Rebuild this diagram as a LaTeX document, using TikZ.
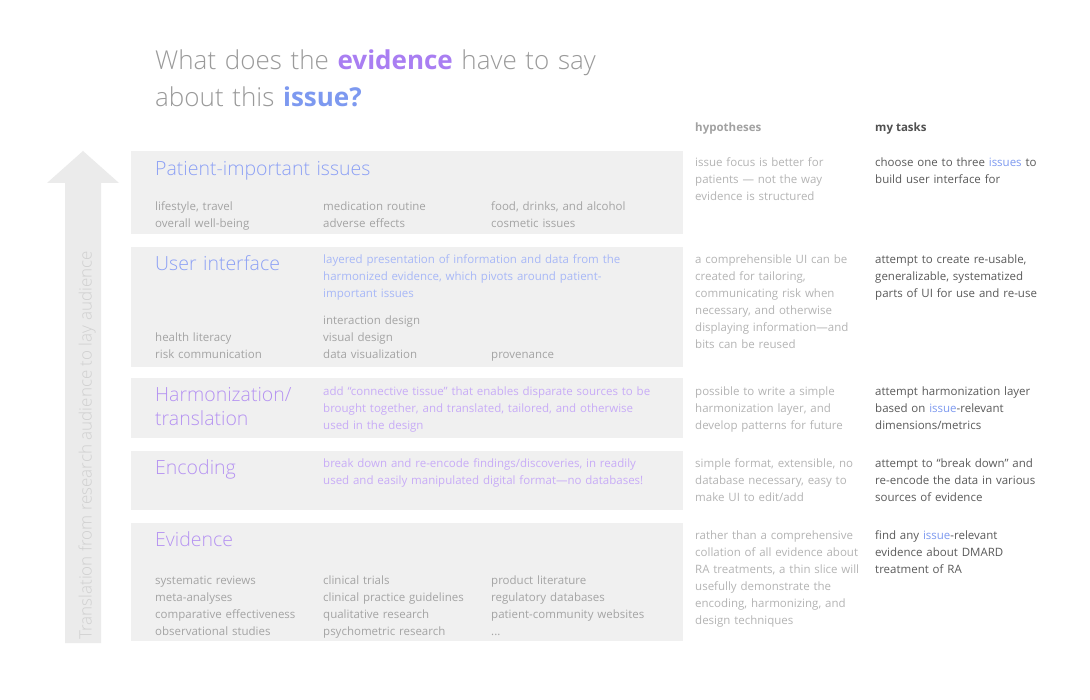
\documentclass[tikz,border=0pt]{standalone}
\usepackage{fontspec}
\setmainfont{Open Sans}
\newfontfamily\lightfont{Open Sans Light}
\usepackage{tikz}
\usetikzlibrary{positioning}
\definecolor{bandgray}{HTML}{F0F0F0}
\definecolor{arrowgray}{HTML}{EBEBEB}
\definecolor{arrowtext}{HTML}{D0D0D0}
\definecolor{titlegray}{HTML}{9A9A9A}
\definecolor{evpurple}{HTML}{A97EF2}
\definecolor{issueblue}{HTML}{7D99F0}
\definecolor{hdgblue}{HTML}{8CA0F5}
\definecolor{hdgpurple}{HTML}{B592F2}
\definecolor{descblue}{HTML}{A8B8F7}
\definecolor{descpurple}{HTML}{C8ACF7}
\definecolor{itemgray}{HTML}{A4A4A4}
\definecolor{hypgray}{HTML}{B4B4B4}
\definecolor{taskgray}{HTML}{5A5A5A}

\begin{document}
\begin{tikzpicture}[
  x=1pt,y=-1pt,
  every node/.style={inner sep=0pt,anchor=base west,align=left},
  band/.style={fill=bandgray},
  ttl/.style={font=\lightfont\fontsize{26}{37}\selectfont,text=titlegray,text width=500},
  hdg/.style={font=\lightfont\fontsize{19.5}{24}\selectfont,text width=300},
  hblue/.style={hdg,text=hdgblue},
  hpurp/.style={hdg,text=hdgpurple},
  desc/.style={font=\fontsize{11.5}{17}\selectfont,text width=355},
  dblue/.style={desc,text=descblue},
  dpurp/.style={desc,text=descpurple},
  item/.style={font=\fontsize{11.5}{17}\selectfont,text=itemgray,text width=200},
  hyp/.style={font=\fontsize{11.5}{17}\selectfont,text=hypgray,text width=200},
  task/.style={font=\fontsize{11.5}{17}\selectfont,text=taskgray,text width=200},
  colhdr/.style={font=\bfseries\fontsize{11.5}{17}\selectfont},
]
\useasboundingbox[fill=white] (0,0) rectangle (1090,700);

% Title
\node[ttl] (title) at (155,70) {What does the {\normalfont\bfseries\color{evpurple}evidence} have to say\\about this {\normalfont\bfseries\color{issueblue}issue?}};

% Column headers
\node[colhdr,text=hypgray!90!black] (hdrhyp) at (695,131.7) {hypotheses};
\node[colhdr,text=taskgray!90!black] (hdrtask) at (875,131.7) {my tasks};

% Background bands
\fill[band] (131,151) rectangle (683,234);
\fill[band] (131,247) rectangle (683,367);
\fill[band] (131,378) rectangle (683,438);
\fill[band] (131,451) rectangle (683,510);
\fill[band] (131,523) rectangle (683,641);

% Upward arrow
\fill[arrowgray] (65,643) -- (65,183) -- (47,183) -- (83,151) -- (119,183) -- (101,183) -- (101,643) -- cycle;
\node[rotate=90,font=\lightfont\fontsize{17}{20}\selectfont,text=arrowtext] (flow) at (91.7,640) {Translation from research audience to lay audience};

% Band 1: patient-important issues
\node[hblue] (issues) at (155,175.7) {Patient-important issues};
\node[item] (iss1) at (155,211) {lifestyle, travel\\overall well-being};
\node[item] (iss2) at (323,211) {medication routine\\adverse effects};
\node[item] (iss3) at (491,211) {food, drinks, and alcohol\\cosmetic issues};

% Band 2: user interface
\node[hblue] (ui) at (155,270.7) {User interface};
\node[dblue] (uidesc) at (323,263.3) {layered presentation of information and data from the\\harmonized evidence, which pivots around patient-\\important issues};
\node[item] (ui1) at (155,342) {health literacy\\risk communication};
\node[item] (ui2) at (323,325) {interaction design\\visual design\\data visualization};
\node[item] (ui3) at (491,359) {provenance};

% Band 3: harmonization
\node[hpurp] (harm) at (155,401.7) {Harmonization/\\translation};
\node[dpurp] (harmdesc) at (323,395.7) {add “connective tissue” that enables disparate sources to be\\brought together, and translated, tailored, and otherwise\\used in the design};

% Band 4: encoding
\node[hpurp] (enc) at (155,474.3) {Encoding};
\node[dpurp] (encdesc) at (323,467.7) {break down and re-encode findings/discoveries, in readily\\used and easily manipulated digital format—no databases!};

% Band 5: evidence
\node[hpurp] (evid) at (155,546) {Evidence};
\node[item] (ev1) at (155,584.3) {systematic reviews\\meta-analyses\\comparative effectiveness\\observational studies};
\node[item] (ev2) at (323,584.3) {clinical trials\\clinical practice guidelines\\qualitative research\\psychometric research};
\node[item] (ev3) at (491,584.3) {product literature\\regulatory databases\\patient-community websites\\...};

% Hypotheses column
\node[hyp] (hyp1) at (695,167) {issue focus is better for\\patients — not the way\\evidence is structured};
\node[hyp] (hyp2) at (695,263.3) {a comprehensible UI can be\\created for tailoring,\\communicating risk when\\necessary, and otherwise\\displaying information—and\\bits can be reused};
\node[hyp] (hyp3) at (695,395.7) {possible to write a simple\\harmonization layer, and\\develop patterns for future};
\node[hyp] (hyp4) at (695,467.3) {simple format, extensible, no\\database necessary, easy to\\make UI to edit/add};
\node[hyp] (hyp5) at (695,539.3) {rather than a comprehensive\\collation of all evidence about\\RA treatments, a thin slice will\\usefully demonstrate the\\encoding, harmonizing, and\\design techniques};

% My tasks column
\node[task] (task1) at (875,167) {choose one to three {\color{issueblue}issues} to\\build user interface for};
\node[task] (task2) at (875,263.3) {attempt to create re-usable,\\generalizable, systematized\\parts of UI for use and re-use};
\node[task] (task3) at (875,395.7) {attempt harmonization layer\\based on {\color{issueblue}issue}-relevant\\dimensions/metrics};
\node[task] (task4) at (875,467.3) {attempt to “break down” and\\re-encode the data in various\\sources of evidence};
\node[task] (task5) at (875,539.3) {find any {\color{issueblue}issue}-relevant\\evidence about DMARD\\treatment of RA};
\end{tikzpicture}
\end{document}
